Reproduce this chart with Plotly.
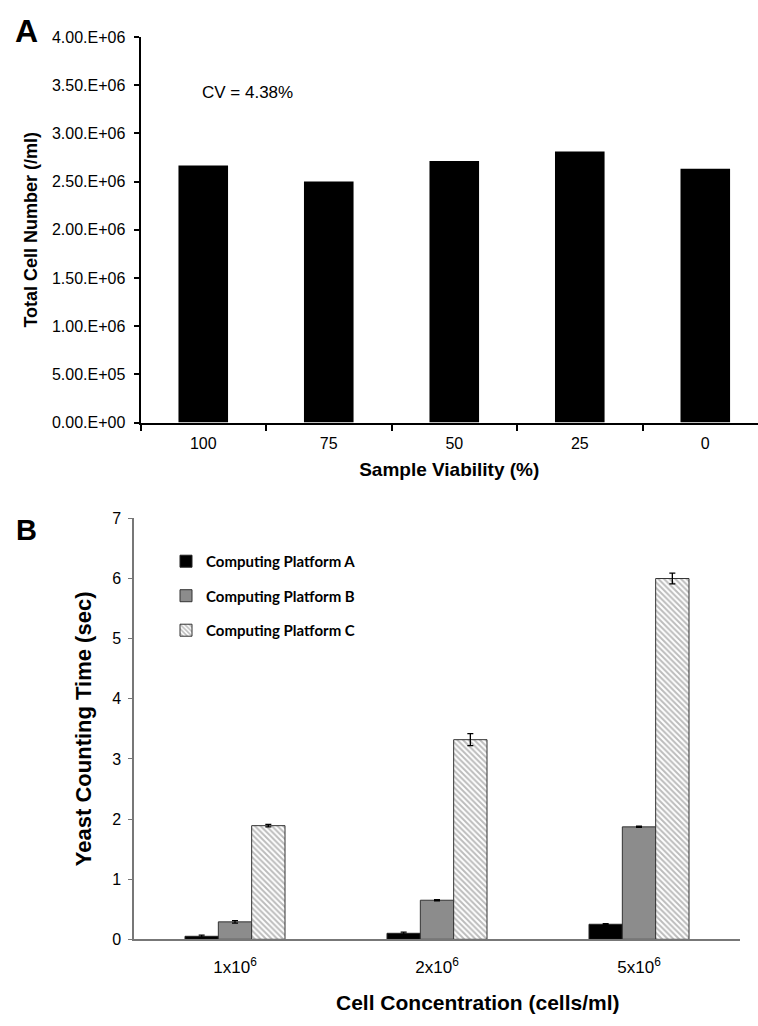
import plotly.graph_objects as go

# ---------------- Data ----------------
# Panel A
viability_labels = ["100", "75", "50", "25", "0"]
total_cells = [2.667e6, 2.500e6, 2.714e6, 2.812e6, 2.632e6]
a_tickvals = [0, 5e5, 1e6, 1.5e6, 2e6, 2.5e6, 3e6, 3.5e6, 4e6]
a_ticktext = ["0.00.E+00", "5.00.E+05", "1.00.E+06", "1.50.E+06", "2.00.E+06",
              "2.50.E+06", "3.00.E+06", "3.50.E+06", "4.00.E+06"]
cv_text = "CV = 4.38%"

# Panel B
conc_labels = ["1x10^6", "2x10^6", "5x10^6"]
conc_ticktext = ["1x10<sup>6</sup>", "2x10<sup>6</sup>", "5x10<sup>6</sup>"]
platform_names = ["Computing Platform A", "Computing Platform B", "Computing Platform C"]
platform_a = [0.05, 0.10, 0.25]
platform_a_err = [0.02, 0.02, 0.01]
platform_b = [0.29, 0.65, 1.87]
platform_b_err = [0.02, 0.01, 0.01]
platform_c = [1.89, 3.32, 6.00]
platform_c_err = [0.02, 0.10, 0.09]

# ---------------- Figure ----------------
W, H = 758, 1026
ARIAL = "Liberation Sans"

fig = go.Figure()

fig.add_trace(go.Bar(
    x=viability_labels, y=total_cells, width=0.395,
    marker=dict(color="black", line=dict(width=0)),
    xaxis="x", yaxis="y", showlegend=False,
))

series = [
    (platform_names[0], platform_a, platform_a_err, dict(color="black", line=dict(color="#222", width=1)), -0.2475),
    (platform_names[1], platform_b, platform_b_err, dict(color="#8c8c8c", line=dict(color="#333", width=1)), -0.0825),
    (platform_names[2], platform_c, platform_c_err,
     dict(color="white", line=dict(color="#333", width=1),
          pattern=dict(shape="\\", fgcolor="#7a7a7a", bgcolor="white", size=4, solidity=0.5)), 0.0825),
]
for i, (name, vals, errs, marker, off) in enumerate(series):
    fig.add_trace(go.Bar(
        x=conc_labels, y=vals, name=name, width=0.165, offset=off,
        marker=marker,
        error_y=dict(type="data", array=errs, visible=True, color="black", thickness=1.3, width=3),
        xaxis="x2", yaxis="y2", legendgroup=f"g{i}",
    ))

def px_x(p):
    return p / W

def px_y(p):
    return (H - p) / H

fig.update_layout(
    width=W, height=H,
    margin=dict(l=0, r=0, t=0, b=0),
    paper_bgcolor="white", plot_bgcolor="white",
    barmode="group",
    font=dict(family=ARIAL, color="black"),
    xaxis=dict(
        domain=[px_x(140.5), 1.0], anchor="y", type="category",
        range=[-0.5, 4.42],
        showline=True, linecolor="black", linewidth=2,
        ticks="outside", tickson="boundaries", ticklen=6, tickwidth=2, tickcolor="black",
        tickfont=dict(size=16, family=ARIAL), ticklabelstandoff=5,
        showgrid=False, zeroline=False,
        title=dict(text="<b>Sample Viability (%)</b>", font=dict(size=19, family=ARIAL), standoff=12),
    ),
    yaxis=dict(
        domain=[px_y(421.5), px_y(29.5)], anchor="x",
        range=[0, 4e6],
        tickvals=a_tickvals, ticktext=a_ticktext,
        showline=True, linecolor="black", linewidth=2,
        ticks="outside", ticklen=5, tickwidth=2, tickcolor="black",
        tickfont=dict(size=16, family=ARIAL), ticklabelstandoff=5,
        showgrid=False, zeroline=False,
        title=dict(text="<b>Total Cell Number (/ml)</b>", font=dict(size=18, family=ARIAL), standoff=10),
    ),
    xaxis2=dict(
        domain=[px_x(134), px_x(740)], anchor="y2", type="category",
        range=[-0.5, 2.5],
        tickvals=conc_labels, ticktext=conc_ticktext,
        showline=True, linecolor="#777", linewidth=1.5,
        ticks="", tickfont=dict(size=17, family=ARIAL), ticklabelstandoff=12,
        showgrid=False, zeroline=False,
    ),
    yaxis2=dict(
        domain=[px_y(947), px_y(519)], anchor="x2",
        range=[0, 7], dtick=1,
        showline=True, linecolor="#777", linewidth=1.5,
        ticks="outside", ticklen=4, tickwidth=1.2, tickcolor="#777",
        tickfont=dict(size=16, family=ARIAL), ticklabelstandoff=4,
        showgrid=False, zeroline=False,
        title=dict(text="<b>Yeast Counting Time (sec)</b>", font=dict(size=22, family=ARIAL), standoff=14),
    ),
    legend=dict(
        x=px_x(166), y=px_y(546), xanchor="left", yanchor="top",
        font=dict(family="Lato", size=15, color="black", weight="bold"),
        bgcolor="rgba(0,0,0,0)", tracegroupgap=12, itemwidth=30,
    ),
    annotations=[
        dict(text="<b>A</b>", x=px_x(26.5), y=px_y(23), xref="paper", yref="paper",
             showarrow=False, font=dict(size=32, family=ARIAL), xanchor="center", yanchor="middle"),
        dict(text="<b>B</b>", x=px_x(26), y=px_y(531), xref="paper", yref="paper",
             showarrow=False, font=dict(size=29, family=ARIAL), xanchor="center", yanchor="middle"),
        dict(text=cv_text, x=px_x(200), y=px_y(86), xref="paper", yref="paper",
             showarrow=False, font=dict(size=17, family=ARIAL), xanchor="left", yanchor="middle"),
        dict(text="<b>Cell Concentration (cells/ml)</b>", x=px_x(477.5), y=px_y(1011), xref="paper", yref="paper",
             showarrow=False, font=dict(size=21, family=ARIAL), xanchor="center", yanchor="middle"),
    ],
)

fig.write_html("out.html", config={"displayModeBar": False},
               post_script="document.body.style.margin='0';document.body.style.overflow='hidden';")
